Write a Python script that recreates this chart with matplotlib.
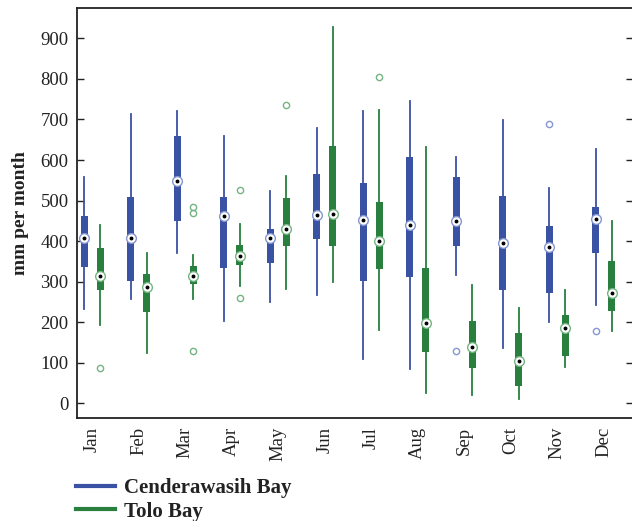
import numpy as np
import matplotlib
matplotlib.use("Agg")
import matplotlib.pyplot as plt
from matplotlib.lines import Line2D

plt.rcParams['font.family'] = ['Liberation Serif', 'DejaVu Serif']

months = ["Jan", "Feb", "Mar", "Apr", "May", "Jun", "Jul", "Aug", "Sep", "Oct", "Nov", "Dec"]

# Cenderawasih Bay (mm per month)
cb_low = [232, 258, 371, 204, 251, 268, 110, 84, 317, 136, 201, 242]
cb_q1 = [337, 302, 450, 334, 346, 406, 302, 311, 389, 280, 273, 371]
cb_med = [407, 407, 549, 463, 407, 464, 453, 441, 450, 396, 385, 455]
cb_q3 = [462, 508, 659, 508, 430, 565, 543, 607, 558, 511, 437, 484]
cb_high = [557, 713, 720, 659, 523, 679, 721, 745, 608, 699, 531, 627]
cb_out = [[], [], [], [], [], [], [], [], [129], [], [690], [178]]

# Tolo Bay (mm per month)
tb_low = [192, 123, 258, 289, 283, 300, 182, 26, 21, 10, 90, 179]
tb_q1 = [280, 226, 295, 341, 388, 389, 332, 127, 88, 43, 117, 228]
tb_med = [313, 287, 313, 363, 430, 468, 401, 197, 140, 105, 185, 273]
tb_q3 = [383, 318, 339, 390, 506, 634, 496, 334, 203, 174, 218, 351]
tb_high = [439, 370, 367, 442, 560, 927, 723, 632, 292, 235, 279, 450]
tb_out = [[87], [], [485, 469, 130], [526, 260], [736], [], [805], [], [], [], [], []]

blue = "#3a52a3"
green = "#287f3e"
blue_lt = "#8595d0"
green_lt = "#74b482"


def make_stats(low, q1, med, q3, high, out):
    stats = []
    for i in range(len(low)):
        stats.append({"whislo": low[i], "q1": q1[i], "med": med[i], "q3": q3[i],
                      "whishi": high[i], "fliers": out[i]})
    return stats


def draw_group(ax, stats, pos, col, col_lt, meds):
    ax.bxp(stats, positions=pos, widths=0.15, patch_artist=True, showcaps=False,
           boxprops=dict(facecolor=col, edgecolor=col, linewidth=0),
           whiskerprops=dict(color=col, linewidth=1.3),
           medianprops=dict(linestyle="none"),
           flierprops=dict(marker="o", markerfacecolor="none", markeredgecolor=col_lt,
                           markersize=4.5, markeredgewidth=1.0),
           manage_ticks=False)
    ax.plot(pos, meds, "o", ms=7, mfc="white", mec=col_lt, mew=1.0, ls="none", zorder=4)
    ax.plot(pos, meds, "o", ms=1.8, mfc="black", mec="black", ls="none", zorder=5)


fig = plt.figure(figsize=(6.32, 5.21), dpi=100)
ax = fig.add_axes([77 / 632, 1 - 418.3 / 521, 556 / 632, 410.3 / 521])

x = np.arange(1, 13)
draw_group(ax, make_stats(cb_low, cb_q1, cb_med, cb_q3, cb_high, cb_out), x - 0.172, blue, blue_lt, cb_med)
draw_group(ax, make_stats(tb_low, tb_q1, tb_med, tb_q3, tb_high, tb_out), x + 0.172, green, green_lt, tb_med)

ax.set_xlim(0.67, 12.63)
ax.set_ylim(-37, 975)
ax.set_yticks(np.arange(0, 901, 100))
ax.set_xticks(x)
ax.set_xticklabels(months, rotation=90)
ax.tick_params(axis="y", direction="in", length=5, width=1, left=True, right=True,
               labelsize=13.5, pad=6, colors="#222222", labelcolor="#222222")
ax.tick_params(axis="x", length=0, labelsize=13.5, pad=6, labelcolor="#222222")
for s in ax.spines.values():
    s.set_linewidth(1.3)
    s.set_color("#222222")

ax.set_ylabel("mm per month", fontsize=14, fontweight="bold", color="#222222", labelpad=8)

handles = [Line2D([], [], color=blue, lw=3), Line2D([], [], color=green, lw=3)]
fig.legend(handles, ["Cenderawasih Bay", "Tolo Bay"], loc="upper left",
           bbox_to_anchor=(76 / 632, 1 - 478 / 521), frameon=False,
           prop={"weight": "bold", "size": 15}, handlelength=1.85, handletextpad=0.45,
           borderpad=0, borderaxespad=0, labelspacing=0.18, labelcolor="#222222")

fig.savefig("out.png", dpi=100)
